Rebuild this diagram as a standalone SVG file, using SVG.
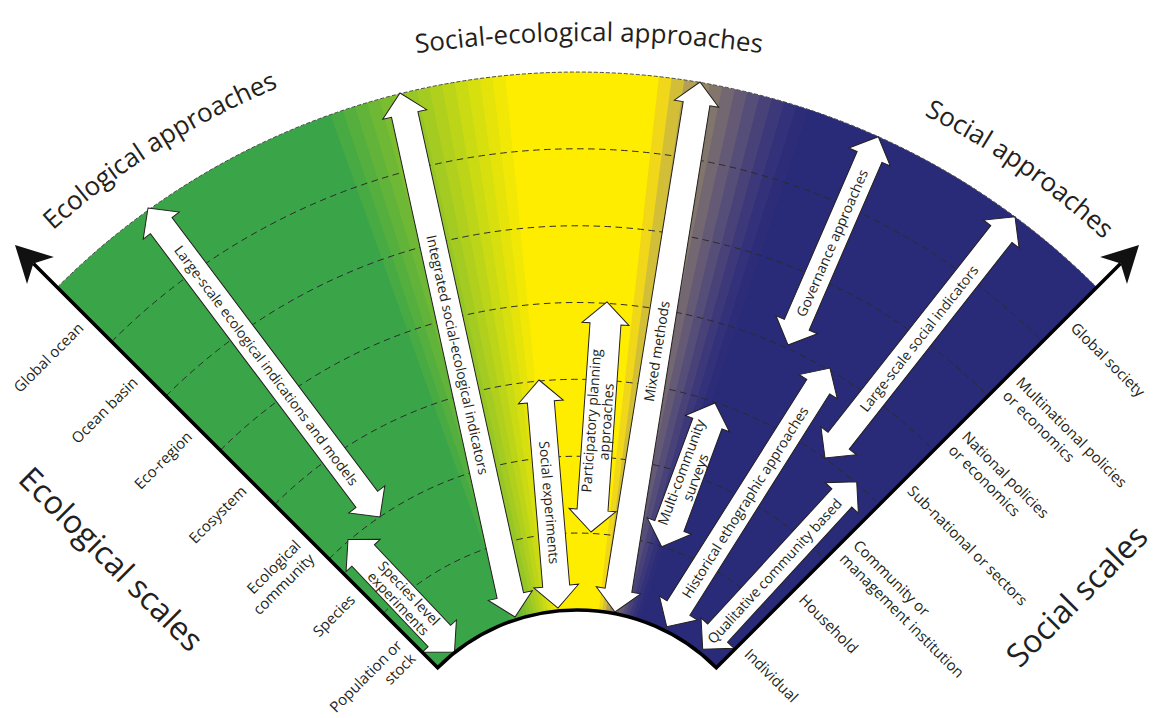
<svg xmlns="http://www.w3.org/2000/svg" xmlns:xlink="http://www.w3.org/1999/xlink" width="1156" height="718" viewBox="0 0 1156 718">
<style>
.t{font-family:"Open Sans","Noto Sans",sans-serif;fill:#231f20}
.al{font-size:14px;text-anchor:middle}
.sl{font-size:15px}
.tt{font-size:26px}
.big{font-size:32px;text-anchor:middle}
.arr{fill:#fff;stroke:#231f20;stroke-width:1;stroke-linejoin:miter}
.grid{fill:none;stroke:#2b2b2b;stroke-width:1;stroke-dasharray:6.5 4.5}
</style>
<defs>
<polygon id="sl" points="577,807 568.6,7 585.4,7"/>
<clipPath id="sec"><path d="M57.3,287.3 A735 735 0 0 1 1096.7,287.3 L716.3,667.7 A197 197 0 0 0 437.7,667.7 Z"/></clipPath>
<path id="pEco" d="M-40.2,331.7 A779 779 0 0 1 409.7,46.2"/>
<path id="pSoc" d="M774.1,58.5 A774 774 0 0 1 1209,360.3"/>
<path id="pSE" d="M189,107.4 A1240 1240 0 0 1 989,107.4"/>
</defs>
<g id="sector" clip-path="url(#sec)">
<polygon points="577,807 235,-133 -400,-133 -400,807" fill="#3aa548"/>
<polygon points="577,807 481,-188 690,-187" fill="#ffed00"/>
<polygon points="577,807 894,-141 1500,-141 1500,807" fill="#292a78"/>
<use xlink:href="#sl" transform="rotate(-20 577 807)" fill="#3aa548"/>
<use xlink:href="#sl" transform="rotate(-19 577 807)" fill="#47aa43"/>
<use xlink:href="#sl" transform="rotate(-18 577 807)" fill="#54af3e"/>
<use xlink:href="#sl" transform="rotate(-17 577 807)" fill="#61b33a"/>
<use xlink:href="#sl" transform="rotate(-16 577 807)" fill="#6fb835"/>
<use xlink:href="#sl" transform="rotate(-15 577 807)" fill="#7cbd30"/>
<use xlink:href="#sl" transform="rotate(-14 577 807)" fill="#89c22b"/>
<use xlink:href="#sl" transform="rotate(-13 577 807)" fill="#96c726"/>
<use xlink:href="#sl" transform="rotate(-12 577 807)" fill="#a3cb22"/>
<use xlink:href="#sl" transform="rotate(-11 577 807)" fill="#b0d01d"/>
<use xlink:href="#sl" transform="rotate(-10 577 807)" fill="#bdd518"/>
<use xlink:href="#sl" transform="rotate(-9 577 807)" fill="#cada13"/>
<use xlink:href="#sl" transform="rotate(-8 577 807)" fill="#d8df0e"/>
<use xlink:href="#sl" transform="rotate(-7 577 807)" fill="#e5e30a"/>
<use xlink:href="#sl" transform="rotate(-6 577 807)" fill="#f2e805"/>
<use xlink:href="#sl" transform="rotate(-5 577 807)" fill="#ffed00"/>
<use xlink:href="#sl" transform="rotate(6 577 807)" fill="#ffed00"/>
<use xlink:href="#sl" transform="rotate(7 577 807)" fill="#f0d719"/>
<use xlink:href="#sl" transform="rotate(8 577 807)" fill="#d2be37"/>
<use xlink:href="#sl" transform="rotate(9 577 807)" fill="#b4a055"/>
<use xlink:href="#sl" transform="rotate(10 577 807)" fill="#968764"/>
<use xlink:href="#sl" transform="rotate(11 577 807)" fill="#82766c"/>
<use xlink:href="#sl" transform="rotate(12 577 807)" fill="#736771"/>
<use xlink:href="#sl" transform="rotate(13 577 807)" fill="#645a75"/>
<use xlink:href="#sl" transform="rotate(14 577 807)" fill="#554e78"/>
<use xlink:href="#sl" transform="rotate(15 577 807)" fill="#484279"/>
<use xlink:href="#sl" transform="rotate(16 577 807)" fill="#3c3879"/>
<use xlink:href="#sl" transform="rotate(17 577 807)" fill="#323179"/>
<use xlink:href="#sl" transform="rotate(18 577 807)" fill="#2c2c79"/>
<use xlink:href="#sl" transform="rotate(19 577 807)" fill="#292a78"/>
</g>
<g id="grid" class="grid">
<path d="M383.3,613.3 A273.9 273.9 0 0 1 770.7,613.3"/>
<path d="M329,559 A350.7 350.7 0 0 1 825,559"/>
<path d="M274.6,504.6 A427.6 427.6 0 0 1 879.4,504.6"/>
<path d="M220.3,450.3 A504.4 504.4 0 0 1 933.7,450.3"/>
<path d="M166,396 A581.3 581.3 0 0 1 988,396"/>
<path d="M111.6,341.6 A658.1 658.1 0 0 1 1042.4,341.6"/>
<path d="M57.3,287.3 A735 735 0 0 1 1096.7,287.3" stroke="#4a4a4a" stroke-dasharray="4 2"/>
</g>
<g id="connectors">
<g id="a-large-eco" transform="translate(148,208) rotate(53.1)">
<polygon class="arr" points="0,0 22,-22.5 22,-13.5 364.4,-13.5 364.4,-22.5 386.4,0 364.4,22.5 364.4,13.5 22,13.5 22,22.5"/>
<text class="t al" x="197" y="5">Large-scale ecological indications and models</text>
</g>
<g id="a-integrated" transform="translate(400,93) rotate(77.62)">
<polygon class="arr" points="0,0 22,-22.5 22,-13.5 514.5,-13.5 514.5,-22.5 536.5,0 514.5,22.5 514.5,13.5 22,13.5 22,22.5"/>
<text class="t al" x="268" y="5">Integrated social-ecological indicators</text>
</g>
<g id="a-mixed" transform="translate(615,612) rotate(-80.89)">
<polygon class="arr" points="0,0 22,-22.5 22,-13.5 514.8,-13.5 514.8,-22.5 536.8,0 514.8,22.5 514.8,13.5 22,13.5 22,22.5"/>
<text class="t al" x="264" y="5">Mixed methods</text>
</g>
<g id="a-social-exp" transform="translate(539,380) rotate(85.24)">
<polygon class="arr" points="0,0 22,-22.5 22,-13.5 206.8,-13.5 206.8,-22.5 228.8,0 206.8,22.5 206.8,13.5 22,13.5 22,22.5"/>
<text class="t al" x="123" y="5">Social experiments</text>
</g>
<g id="a-participatory" transform="translate(591,532) rotate(-86.02)">
<polygon class="arr" points="0,0 22,-23.5 22,-15.5 208.6,-15.5 208.6,-23.5 230.6,0 208.6,23.5 208.6,15.5 22,15.5 22,23.5"/>
<text class="t al" x="111" y="-2.5">Participatory planning</text>
<text class="t al" x="111" y="12.5">approaches</text>
</g>
<g id="a-multi" transform="translate(661.7,546.7) rotate(-69.65)">
<polygon class="arr" points="0,0 22,-23.5 22,-15.5 131.3,-15.5 131.3,-23.5 153.3,0 131.3,23.5 131.3,15.5 22,15.5 22,23.5"/>
<text class="t al" x="76.7" y="-2.5">Multi-community</text>
<text class="t al" x="76.7" y="12.5">surveys</text>
</g>
<g id="a-historical" transform="translate(666.7,626.7) rotate(-57.74)">
<polygon class="arr" points="0,0 22,-22.5 22,-13.5 283.9,-13.5 283.9,-22.5 305.9,0 283.9,22.5 283.9,13.5 22,13.5 22,22.5"/>
<text class="t al" x="147" y="5">Historical ethographic approaches</text>
</g>
<g id="a-qualitative" transform="translate(702.7,649.3) rotate(-47.42)">
<polygon class="arr" points="0,0 22,-22.5 22,-13.5 205.6,-13.5 205.6,-22.5 227.6,0 205.6,22.5 205.6,13.5 22,13.5 22,22.5"/>
<text class="t al" x="106.3" y="5">Qualitative community based</text>
</g>
<g id="a-large-soc" transform="translate(825,458) rotate(-51.78)">
<polygon class="arr" points="0,0 22,-22.5 22,-13.5 285.1,-13.5 285.1,-22.5 307.1,0 285.1,22.5 285.1,13.5 22,13.5 22,22.5"/>
<text class="t al" x="152" y="5">Large-scale social indicators</text>
</g>
<g id="a-governance" transform="translate(788,345) rotate(-66.56)">
<polygon class="arr" points="0,0 22,-22.5 22,-13.5 205,-13.5 205,-22.5 227,0 205,22.5 205,13.5 22,13.5 22,22.5"/>
<text class="t al" x="111" y="5">Governance approaches</text>
</g>
<g id="a-species" transform="translate(348,539.5) rotate(46.57)">
<polygon class="arr" points="0,0 22,-23.5 22,-15.5 132.9,-15.5 132.9,-23.5 154.9,0 132.9,23.5 132.9,15.5 22,15.5 22,23.5"/>
<text class="t al" x="81" y="-2.5">Species level</text>
<text class="t al" x="81" y="12.5">experiments</text>
</g>
</g>
<g id="axes">
<path d="M33.4,263.4 L437.7,667.7 A197 197 0 0 1 716.3,667.7 L1120.6,263.4" fill="none" stroke="#000" stroke-width="3.5" stroke-linejoin="miter"/>
<polygon transform="translate(15,245) rotate(45)" points="0,0 36,19 26,0 36,-19" fill="#111"/>
<polygon transform="translate(1139,245) rotate(135)" points="0,0 36,19 26,0 36,-19" fill="#111"/>
</g>
<g id="titles">
<text class="t tt" text-anchor="middle"><textPath xlink:href="#pEco" startOffset="50%">Ecological approaches</textPath></text>
<text class="t tt" text-anchor="middle"><textPath xlink:href="#pSE" startOffset="50%">Social-ecological approaches</textPath></text>
<text class="t tt" text-anchor="middle"><textPath xlink:href="#pSoc" startOffset="50%">Social approaches</textPath></text>
<text class="t big" transform="rotate(45)" x="474" y="328">Ecological scales</text>
<text class="t big" transform="rotate(-45)" x="340" y="1194">Social scales</text>
</g>
<g id="eco-scales" transform="rotate(-45)">
<text class="t sl" text-anchor="end" x="-172" y="742">Population or</text>
<text class="t sl" text-anchor="end" x="-172" y="761">stock</text>
<text class="t sl" text-anchor="end" x="-173" y="676.7">Species</text>
<text class="t sl" text-anchor="end" x="-173" y="599.8">Ecological</text>
<text class="t sl" text-anchor="end" x="-173" y="618.8">community</text>
<text class="t sl" text-anchor="end" x="-173" y="523">Ecosystem</text>
<text class="t sl" text-anchor="end" x="-173" y="446.1">Eco-region</text>
<text class="t sl" text-anchor="end" x="-173" y="369.3">Ocean basin</text>
<text class="t sl" text-anchor="end" x="-173" y="292.4">Global ocean</text>
</g>
<g id="soc-scales" transform="rotate(45)">
<text class="t sl" x="989" y="-62.5">Individual</text>
<text class="t sl" x="989" y="-139.4">Household</text>
<text class="t sl" x="989" y="-216.3">Community or</text>
<text class="t sl" x="989" y="-197.3">management institution</text>
<text class="t sl" x="989" y="-293.1">Sub-national or sectors</text>
<text class="t sl" x="989" y="-370">National policies</text>
<text class="t sl" x="989" y="-351">or economics</text>
<text class="t sl" x="989" y="-446.8">Multinational policies</text>
<text class="t sl" x="989" y="-427.8">or economics</text>
<text class="t sl" x="989" y="-523.7">Global society</text>
</g>
</svg>
